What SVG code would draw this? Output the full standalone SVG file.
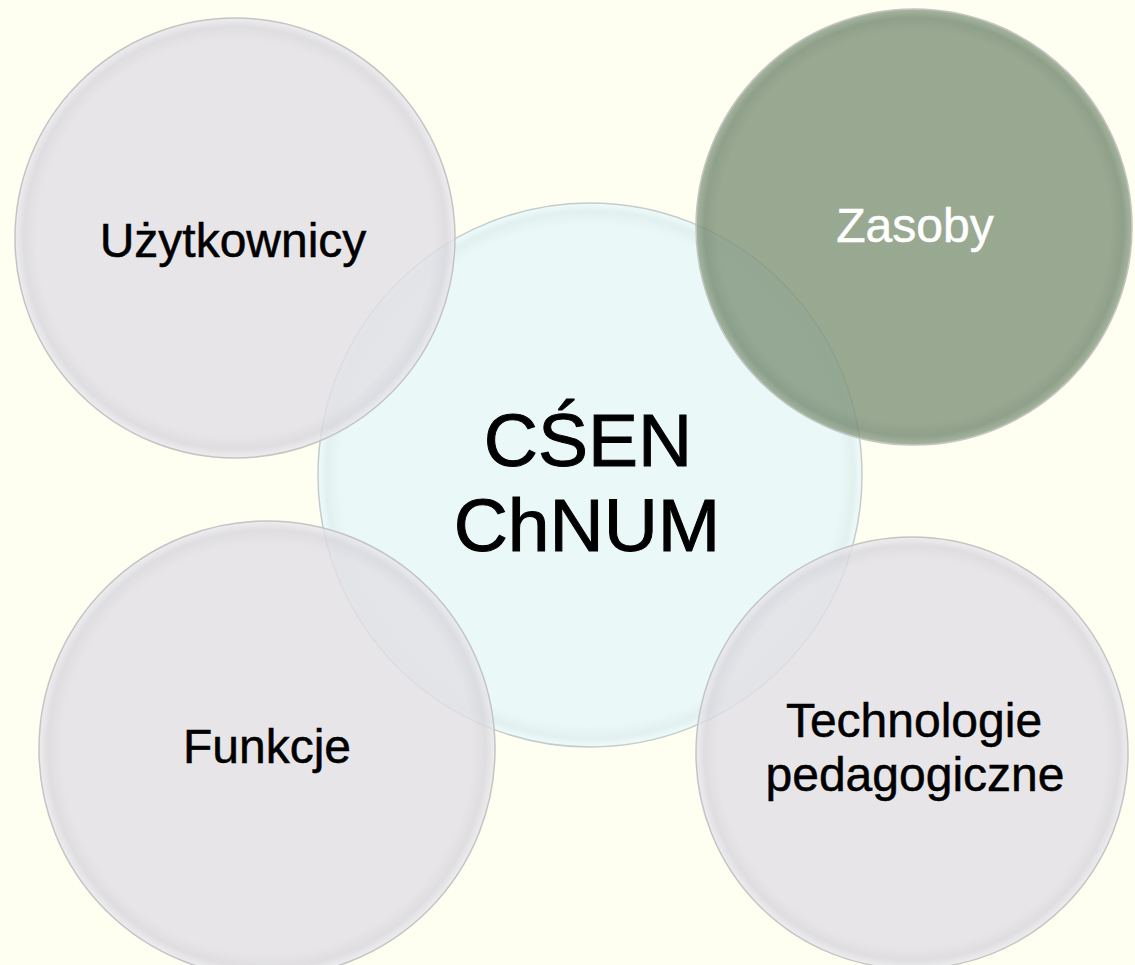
<svg xmlns="http://www.w3.org/2000/svg" width="1135" height="965" viewBox="0 0 1135 965">
  <defs>
    <radialGradient id="gGray" cx="50%" cy="50%" r="50%">
      <stop offset="0" stop-color="#E2E0E5"/>
      <stop offset="0.9" stop-color="#E2E0E5"/>
      <stop offset="0.96" stop-color="#D8D6DC"/>
      <stop offset="1" stop-color="#EAE9EE"/>
    </radialGradient>
    <radialGradient id="gGreen" cx="50%" cy="50%" r="50%">
      <stop offset="0" stop-color="#82967D"/>
      <stop offset="0.9" stop-color="#82967D"/>
      <stop offset="0.96" stop-color="#778B74"/>
      <stop offset="1" stop-color="#92A68B"/>
    </radialGradient>
    <radialGradient id="gCyan" cx="50%" cy="50%" r="50%">
      <stop offset="0" stop-color="#EAF9F7"/>
      <stop offset="0.92" stop-color="#EAF9F7"/>
      <stop offset="0.97" stop-color="#E2F1F0"/>
      <stop offset="1" stop-color="#EEFBFA"/>
    </radialGradient>
  </defs>
  <style>
    .lbl { font-family: "Liberation Sans", Arial, sans-serif; font-size: 48px; fill: #000000; stroke: #000000; stroke-width: 0.5; text-anchor: middle; }
    .big { font-family: "Liberation Sans", Arial, sans-serif; font-size: 75px; fill: #000000; stroke: #000000; stroke-width: 1; text-anchor: middle; }
    .white { fill: #FFFFFF; stroke: #FFFFFF; }
    .outer { stroke: #C4C4C4; stroke-width: 1.5; fill-opacity: 0.82; }
    .center { stroke: #C4CCCC; stroke-width: 1.5; }
  </style>
  <rect width="1135" height="965" fill="#FEFEF1"/>
  <g id="connectors"/>
  <g id="node-center-circle">
    <circle class="center" cx="590" cy="475" r="272" fill="url(#gCyan)"/>
  </g>
  <g id="node-uzytkownicy">
    <circle class="outer" cx="235" cy="238" r="220" fill="url(#gGray)"/>
    <text class="lbl" x="233" y="257">Użytkownicy</text>
  </g>
  <g id="node-zasoby">
    <circle class="outer" cx="914" cy="227" r="218" fill="url(#gGreen)" stroke="#8E9E88"/>
    <text class="lbl white" x="915" y="242">Zasoby</text>
  </g>
  <g id="node-funkcje">
    <circle class="outer" cx="267" cy="749" r="228" fill="url(#gGray)"/>
    <text class="lbl" x="267" y="763">Funkcje</text>
  </g>
  <g id="node-technologie">
    <circle class="outer" cx="912" cy="753" r="216" fill="url(#gGray)"/>
    <text class="lbl" x="914" y="737">Technologie</text>
    <text class="lbl" x="915" y="791">pedagogiczne</text>
  </g>
  <g id="node-center">
    <text class="big" x="588" y="466">CŚEN</text>
    <text class="big" x="587" y="551">ChNUM</text>
  </g>
</svg>
